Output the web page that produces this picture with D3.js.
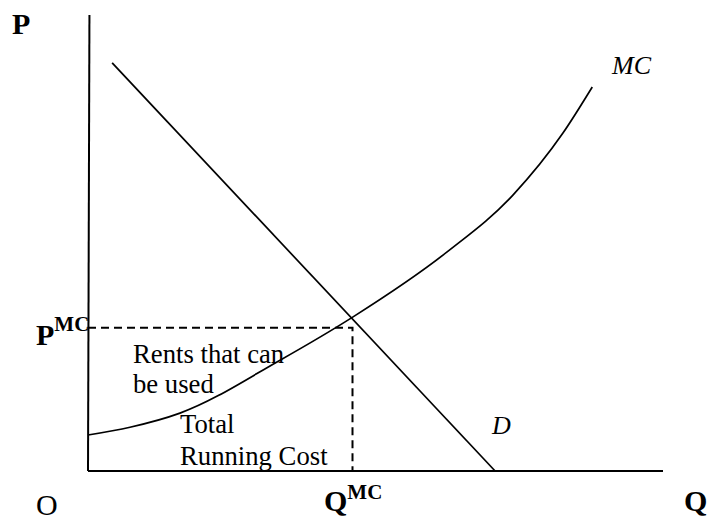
<!DOCTYPE html>
<html>
<head>
<meta charset="utf-8">
<script src="https://cdn.jsdelivr.net/npm/d3@7"></script>
<style>
  html, body { margin: 0; padding: 0; background: #fff; }
</style>
</head>
<body>
<svg id="chart" width="709" height="521"></svg>
<script>
// ---- data (economic units: quantity Q and price P, 0..100) ----
const mcQ = [0, 7.3, 16.0, 33.4, 46.1, 62.4, 73.9, 82.6, 87.7];
const mcP = [7.9, 9.6, 12.7, 24.3, 33.8, 48.0, 60.5, 74.1, 84.2];
const demandQ = [4.2, 70.8];
const demandP = [89.5, 0];
const equilibriumQ = 46.0;
const equilibriumP = 31.4;
const axisMax = 100;

const FONT = "Liberation Serif";

const svg = d3.select("#chart");
const x = d3.scaleLinear().domain([0, axisMax]).range([88, 663]);
const y = d3.scaleLinear().domain([0, axisMax]).range([471, 15]);

const line = d3.line().x(d => x(d[0])).y(d => y(d[1]));

// axes (Y axis very slightly tilted as in the original)
svg.append("line")
  .attr("x1", x(0.25)).attr("y1", y(axisMax))
  .attr("x2", x(0)).attr("y2", y(0))
  .attr("stroke", "#000").attr("stroke-width", 2);
svg.append("line")
  .attr("x1", x(0)).attr("y1", y(0))
  .attr("x2", x(axisMax)).attr("y2", y(0))
  .attr("stroke", "#000").attr("stroke-width", 2);

// dashed guides
svg.append("path")
  .attr("d", line([[0, equilibriumP], [equilibriumQ, equilibriumP], [equilibriumQ, 0]]))
  .attr("fill", "none").attr("stroke", "#000").attr("stroke-width", 2)
  .attr("stroke-dasharray", "8,5");

// demand
svg.append("path")
  .attr("d", line(demandQ.map((q, i) => [q, demandP[i]])))
  .attr("fill", "none").attr("stroke", "#000").attr("stroke-width", 1.7);

// MC curve
const mcLine = d3.line().x(d => x(d[0])).y(d => y(d[1])).curve(d3.curveMonotoneX);
svg.append("path")
  .attr("d", mcLine(mcQ.map((q, i) => [q, mcP[i]])))
  .attr("fill", "none").attr("stroke", "#000").attr("stroke-width", 1.7);

// labels
function label(txt, px, py, size, weight, fstyle) {
  const t = svg.append("text").attr("x", px).attr("y", py)
    .attr("font-family", FONT)
    .attr("font-size", size).text(txt);
  if (weight) t.attr("font-weight", weight);
  if (fstyle) t.attr("font-style", fstyle);
  return t;
}
label("P", 12, 34, 30, "bold");
label("Q", 684, 511, 30, "bold");
label("O", 36, 515, 30);

const pmc = svg.append("text").attr("x", 36).attr("y", 345)
  .attr("font-family", FONT).attr("font-weight", "bold");
pmc.append("tspan").attr("font-size", 30).text("P");
pmc.append("tspan").attr("font-size", 21).attr("dy", -14).text("MC");

const qmc = svg.append("text").attr("x", 324).attr("y", 511)
  .attr("font-family", FONT).attr("font-weight", "bold");
qmc.append("tspan").attr("font-size", 30).text("Q");
qmc.append("tspan").attr("font-size", 21).attr("dy", -12).text("MC");

label("MC", 612, 74, 26, null, "italic");
label("D", 492, 434, 26, null, "italic");

label("Rents that can", 133, 363, 26.7);
label("be used", 133, 393, 26.7);
label("Total", 180, 433, 26.7);
label("Running Cost", 180, 465, 26.7);
</script>
</body>
</html>
